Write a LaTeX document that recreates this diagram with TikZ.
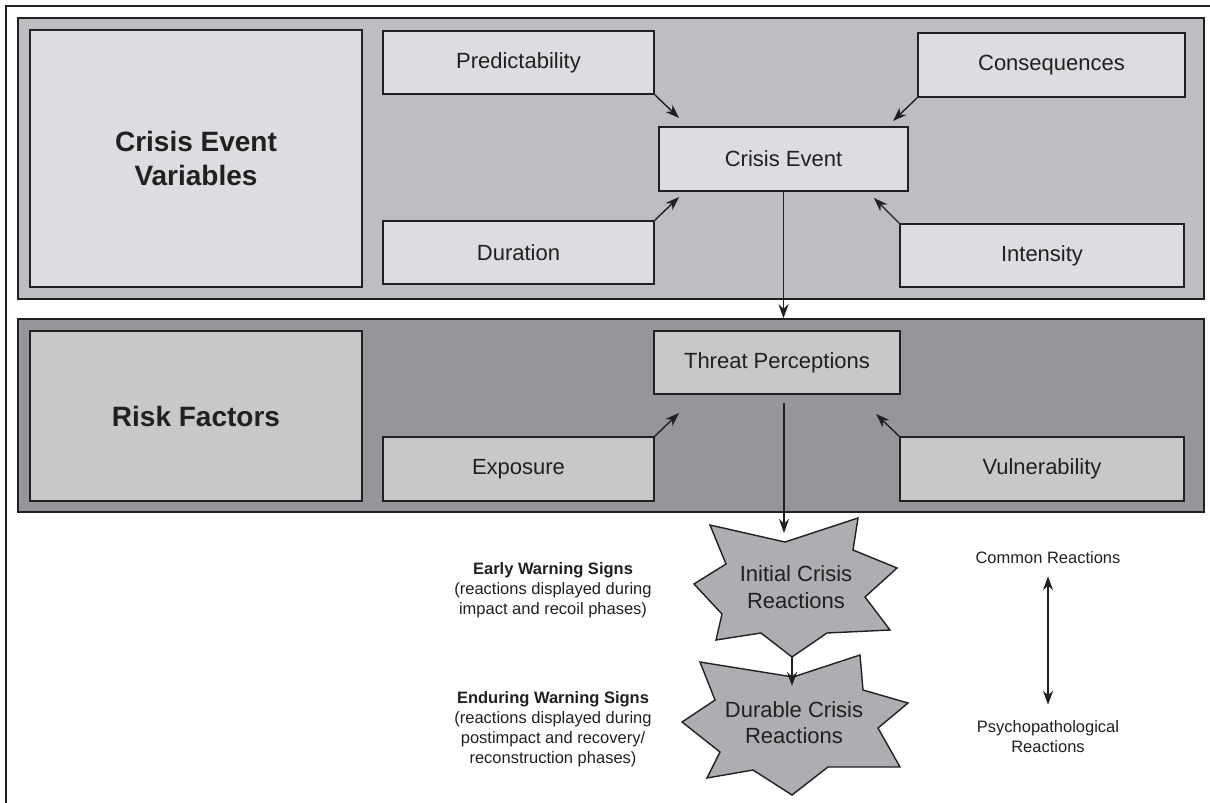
\documentclass[tikz,border=0pt]{standalone}
\usepackage{fontspec}
\setmainfont{Liberation Sans}
\usetikzlibrary{arrows.meta}
\definecolor{ink}{RGB}{35,31,32}
\definecolor{paneltop}{RGB}{189,190,194}
\definecolor{boxtop}{RGB}{220,221,224}
\definecolor{panelrisk}{RGB}{149,150,154}
\definecolor{boxrisk}{RGB}{199,200,202}
\definecolor{burst}{RGB}{173,174,178}

\begin{document}
\begin{tikzpicture}[x=1pt,y=-1pt,
  panel/.style={draw=ink,line width=1.6pt,rectangle,inner sep=0pt},
  fbox/.style={draw=ink,line width=1.6pt,rectangle,inner sep=0pt,text=ink,align=center,font=\fontsize{22}{26}\selectfont},
  bigtext/.style={font=\bfseries\fontsize{28}{34}\selectfont},
  arr/.style={draw=ink,line width=1.4pt,-{Stealth[length=14pt,width=10pt]}},
  dbl/.style={draw=ink,line width=1.4pt,{Stealth[length=14pt,width=10pt]}-{Stealth[length=14pt,width=10pt]}},
  small/.style={text=ink,align=center,inner sep=2pt,font=\fontsize{16.5}{20}\selectfont},
  bursttext/.style={text=ink,align=center,inner sep=0pt,font=\fontsize{22}{26.5}\selectfont},
  burstshape/.style={draw=ink,line width=1.4pt,fill=burst}]
\useasboundingbox (0,0) rectangle (1210,803);
\draw[ink,line width=1.6pt] (6,803) -- (6,6) -- (1210,6);

\draw (611,158.5) node[panel,fill=paneltop,minimum width=1186pt,minimum height=281pt](top){};
\draw (196,158.5) node[fbox,bigtext,fill=boxtop,minimum width=332pt,minimum height=257pt](cev){Crisis Event\\Variables};
\draw (518.5,62.5) node[fbox,fill=boxtop,minimum width=271pt,minimum height=63pt](pred){Predictability};
\draw (1051.5,65) node[fbox,fill=boxtop,minimum width=267pt,minimum height=64pt](cons){Consequences};
\draw (783.5,159) node[fbox,fill=boxtop,minimum width=249pt,minimum height=64pt](ce){Crisis Event};
\draw (518.5,252.5) node[fbox,fill=boxtop,minimum width=271pt,minimum height=63pt](dur){Duration};
\draw (1042,255.5) node[fbox,fill=boxtop,minimum width=284pt,minimum height=63pt](inten){Intensity};

\draw (611,415.5) node[panel,fill=panelrisk,minimum width=1186pt,minimum height=193pt](risk){};
\draw (196,416) node[fbox,bigtext,fill=boxrisk,minimum width=332pt,minimum height=170pt](rf){Risk Factors};
\draw (777,362.5) node[fbox,fill=boxrisk,minimum width=246pt,minimum height=63pt](tp){Threat Perceptions};
\draw (518.5,469) node[fbox,fill=boxrisk,minimum width=271pt,minimum height=64pt](expo){Exposure};
\draw (1042,469) node[fbox,fill=boxrisk,minimum width=284pt,minimum height=64pt](vul){Vulnerability};

\coordinate (ceA) at (679,118);
\coordinate (ceB) at (893,121);
\coordinate (ceC) at (679,197);
\coordinate (ceD) at (874,198);
\coordinate (tpA) at (679,413);
\coordinate (tpB) at (876,414);
\coordinate (tpout) at (784,403);
\coordinate (iniin) at (784,533);
\coordinate (inibot) at (792,657);
\coordinate (dcrin) at (792,686);

\draw[burstshape] (710,525) -- (785,542) -- (858,518) -- (853,550) -- (897,568) -- (865,597) -- (890,630) -- (827,633) -- (792,657) -- (761,633) -- (716,640) -- (722,614) -- (694,584) -- (726,564) -- cycle;
\draw[burstshape] (700,662) -- (793,677) -- (860,655) -- (863,690) -- (908,703) -- (878,728) -- (900,767) -- (828,767) -- (792,795) -- (753,770) -- (707,778) -- (720,752) -- (682,722) -- (715,700) -- cycle;
\draw (796,587) node[bursttext](ini){Initial Crisis\\Reactions};
\draw (794,722.5) node[bursttext](dcr){Durable Crisis\\Reactions};

\draw[arr] (pred.south east) -- (ceA);
\draw[arr] (cons.south west) -- (ceB);
\draw[arr] (dur.north east) -- (ceC);
\draw[arr] (inten.north west) -- (ceD);
\draw[arr] (ce.south) -- (ce.south |- risk.north);
\draw[arr] (expo.north east) -- (tpA);
\draw[arr] (vul.north west) -- (tpB);
\draw[arr] (tpout) -- (iniin);
\draw[arr] (inibot) -- (dcrin);

\draw (553,590.5) node[small](early){\textbf{Early Warning Signs}\\(reactions displayed during\\impact and recoil phases)};
\draw (553,729) node[small](endur){\textbf{Enduring Warning Signs}\\(reactions displayed during\\postimpact and recovery/\\reconstruction phases)};
\draw (1048,558) node[small](common){Common Reactions};
\draw (1048,737) node[small](psycho){Psychopathological\\Reactions};
\draw[dbl,shorten <=10pt,shorten >=14pt] (common) -- (psycho);
\end{tikzpicture}
\end{document}
